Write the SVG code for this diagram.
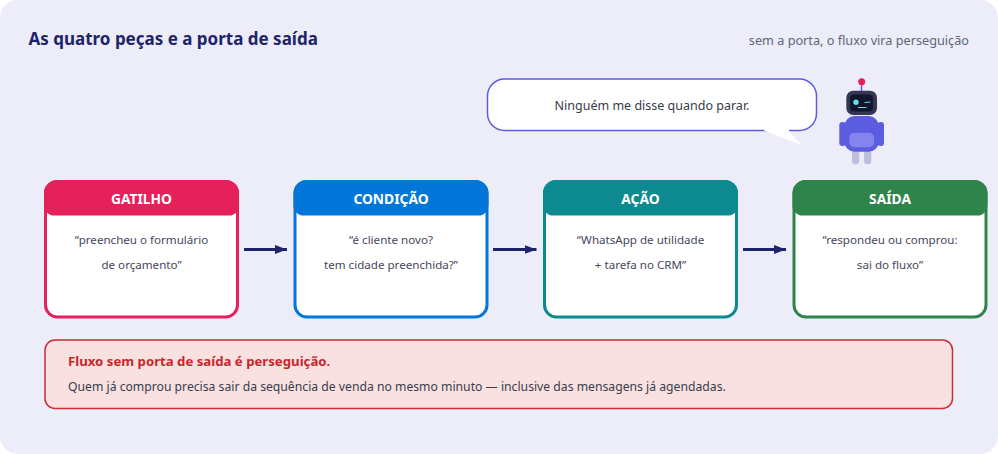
<svg xmlns="http://www.w3.org/2000/svg" width="998" height="454" viewBox="0 0 998 454">
  <style>
    text { font-family: "Noto Sans", "Open Sans", sans-serif; }
    .title { font-size: 17px; font-weight: 700; fill: #1e2468; }
    .note { font-size: 12.700px; fill: #62667a; }
    .head { font-size: 13.800px; font-weight: 700; fill: #ffffff; text-anchor: middle; }
    .body { font-size: 11.600px; fill: #44485a; text-anchor: middle; }
    .card { fill: #ffffff; stroke-width: 3; }
    .wire { stroke: #1e2468; stroke-width: 3; fill: none; marker-end: url(#arrow); }
  </style>
  <defs>
    <marker id="arrow" markerUnits="userSpaceOnUse" markerWidth="12" markerHeight="9" refX="12" refY="4.500" orient="auto">
      <path d="M0 0 L12 4.500 L0 9 Z" fill="#1e2468"/>
    </marker>
  </defs>

  <rect id="panel" x="0" y="0" width="998" height="454" rx="18" fill="#ecedf9"/>
  <text class="title" x="28.500" y="45">As quatro peças e a porta de saída</text>
  <text class="note" x="969" y="45" text-anchor="end">sem a porta, o fluxo vira perseguição</text>

  <g id="balloon">
    <rect x="487.500" y="79" width="329" height="51.500" rx="17" fill="#ffffff" stroke="#5c5ce0" stroke-width="1.500"/>
    <path d="M764 129 H789 V131 L801 145 L764 130.500 Z" fill="#ffffff"/>
    <text x="652" y="110" text-anchor="middle" font-size="12.500" fill="#383c4a">Ninguém me disse quando parar.</text>
  </g>

  <g id="robot">
    <line x1="861.500" y1="84" x2="861.500" y2="92" stroke="#5c5ce0" stroke-width="1.500"/>
    <circle cx="861.700" cy="81.700" r="3.500" fill="#e6205a"/>
    <rect x="846.300" y="90.700" width="30.700" height="24.300" rx="7" fill="#343754"/>
    <rect x="850" y="94.500" width="23" height="17" rx="4" fill="#12152b"/>
    <circle cx="856" cy="102.300" r="2.700" fill="#5ce1e6"/>
    <line x1="864.500" y1="102.500" x2="870.500" y2="102" stroke="#5ce1e6" stroke-width="1.200"/>
    <line x1="858" y1="107.500" x2="866.500" y2="107.500" stroke="#5ce1e6" stroke-width="1"/>
    <rect x="852" y="150" width="7.300" height="14.300" rx="3.600" fill="#bcbfdc"/>
    <rect x="864" y="150" width="7.300" height="14.300" rx="3.600" fill="#bcbfdc"/>
    <rect x="839.300" y="122" width="6.500" height="24" rx="3" fill="#5c5ce0"/>
    <rect x="877.500" y="122" width="6.500" height="24" rx="3" fill="#5c5ce0"/>
    <rect x="844.500" y="116" width="34.200" height="35.700" rx="10" fill="#5c5ce0"/>
    <rect x="849.300" y="132.700" width="24.700" height="14.600" rx="5" fill="#8583ec"/>
  </g>

  <g id="connectors">
    <line class="wire" x1="244" y1="249.500" x2="287" y2="249.500"/>
    <line class="wire" x1="493" y1="249.500" x2="536.500" y2="249.500"/>
    <line class="wire" x1="743" y1="249.500" x2="786" y2="249.500"/>
  </g>

  <g id="gatilho">
    <rect class="card" x="45.500" y="181.500" width="192" height="135.500" rx="12" stroke="#e6205a"/>
    <path d="M44 193 A13 13 0 0 1 57 180 H226 A13 13 0 0 1 239 193 V205 A10 10 0 0 1 229 215.500 H54 A10 10 0 0 1 44 205 Z" fill="#e6205a"/>
    <text class="head" x="141.500" y="204">GATILHO</text>
    <text class="body" x="141.500" y="244">“preencheu o formulário</text>
    <text class="body" x="141.500" y="269">de orçamento”</text>
  </g>

  <g id="condicao">
    <rect class="card" x="295" y="181.500" width="192" height="135.500" rx="12" stroke="#0277d9"/>
    <path d="M293.500 193 A13 13 0 0 1 306.500 180 H475.500 A13 13 0 0 1 488.500 193 V205 A10 10 0 0 1 478.500 215.500 H303.500 A10 10 0 0 1 293.500 205 Z" fill="#0277d9"/>
    <text class="head" x="391" y="204">CONDIÇÃO</text>
    <text class="body" x="391" y="244">“é cliente novo?</text>
    <text class="body" x="391" y="269">tem cidade preenchida?”</text>
  </g>

  <g id="acao">
    <rect class="card" x="544.500" y="181.500" width="192" height="135.500" rx="12" stroke="#0d8a8f"/>
    <path d="M543 193 A13 13 0 0 1 556 180 H725 A13 13 0 0 1 738 193 V205 A10 10 0 0 1 728 215.500 H553 A10 10 0 0 1 543 205 Z" fill="#0d8a8f"/>
    <text class="head" x="640.500" y="204">AÇÃO</text>
    <text class="body" x="640.500" y="244">“WhatsApp de utilidade</text>
    <text class="body" x="640.500" y="269">+ tarefa no CRM”</text>
  </g>

  <g id="saida">
    <rect class="card" x="794" y="181.500" width="192" height="135.500" rx="12" stroke="#2e844a"/>
    <path d="M792.500 193 A13 13 0 0 1 805.500 180 H974.500 A13 13 0 0 1 987.500 193 V205 A10 10 0 0 1 977.500 215.500 H802.500 A10 10 0 0 1 792.500 205 Z" fill="#2e844a"/>
    <text class="head" x="890" y="204">SAÍDA</text>
    <text class="body" x="890" y="244">“respondeu ou comprou:</text>
    <text class="body" x="890" y="269">sai do fluxo”</text>
  </g>

  <g id="alerta">
    <rect x="45" y="340" width="907.500" height="68.500" rx="10" fill="#f9e1e2" stroke="#c62f35" stroke-width="1.500"/>
    <text x="68" y="366" font-size="13.200" font-weight="700" fill="#c62828">Fluxo sem porta de saída é perseguição.</text>
    <text x="68" y="391" font-size="12.200" fill="#383c4a">Quem já comprou precisa sair da sequência de venda no mesmo minuto — inclusive das mensagens já agendadas.</text>
  </g>
</svg>
